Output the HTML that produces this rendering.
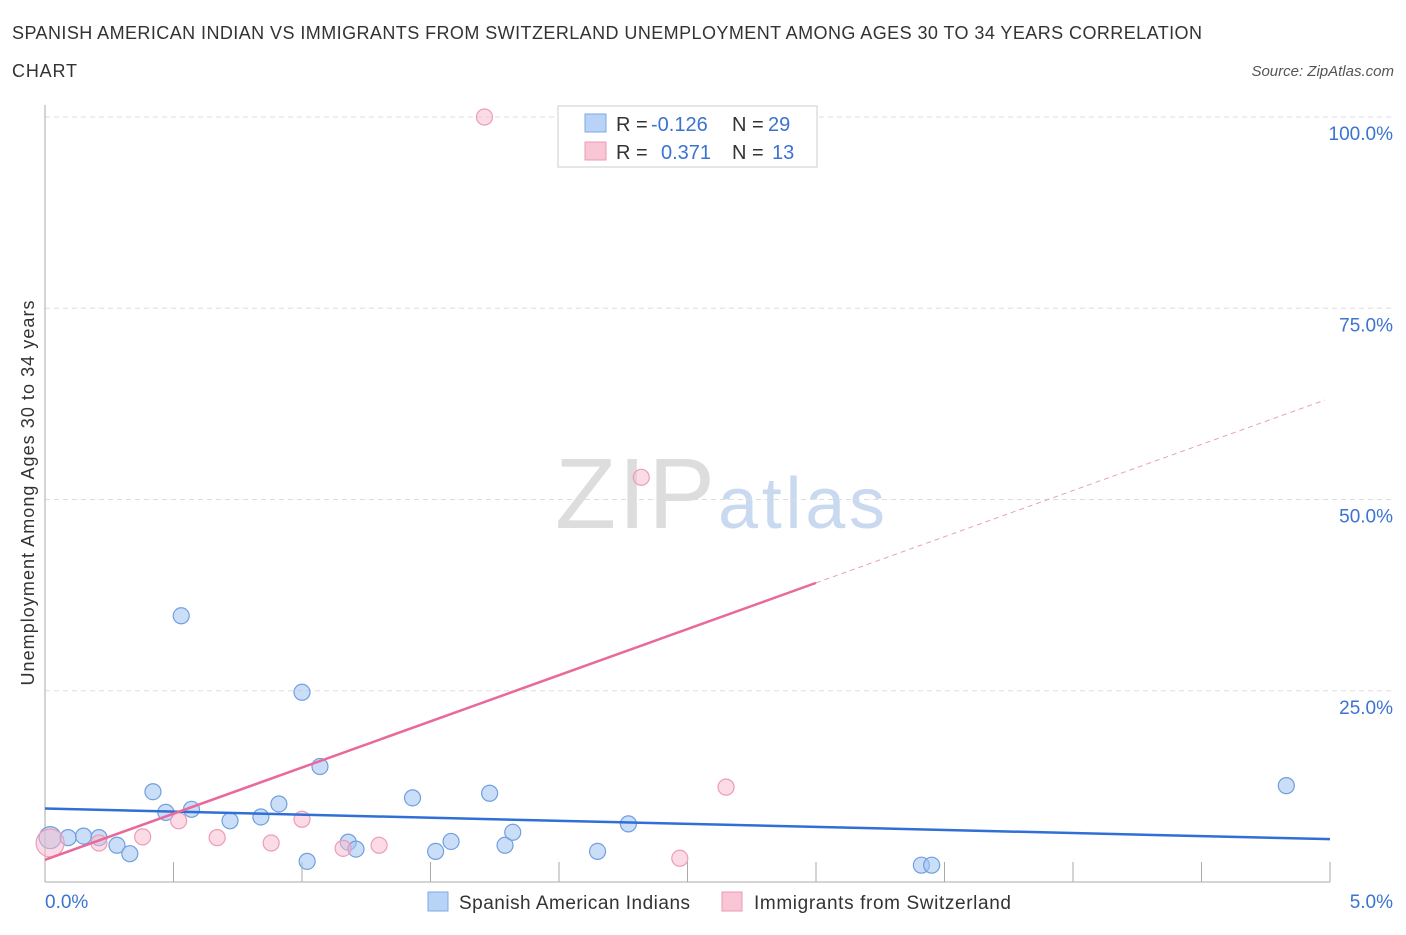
<!DOCTYPE html>
<html><head><meta charset="utf-8"><style>
body{margin:0;background:#fff;font-family:"Liberation Sans",sans-serif;}
svg text{font-family:"Liberation Sans",sans-serif;}
</style></head><body>
<svg id="c" width="1406" height="930" xmlns="http://www.w3.org/2000/svg">
<text x="12" y="39" font-size="18" fill="#333" textLength="1190">SPANISH AMERICAN INDIAN VS IMMIGRANTS FROM SWITZERLAND UNEMPLOYMENT AMONG AGES 30 TO 34 YEARS CORRELATION</text>
<text x="12" y="77" font-size="18" fill="#333" textLength="65">CHART</text>
<text x="1394" y="76" font-size="15" fill="#555" font-style="italic" text-anchor="end">Source: ZipAtlas.com</text>
<text x="715" y="528" font-size="100" fill="#ddd" text-anchor="end" font-family="Liberation Serif" textLength="160">ZIP</text>
<text x="718" y="528" font-size="72" fill="#c9d9ef" textLength="167">atlas</text>
<text x="34" y="493" font-size="18" fill="#333" text-anchor="middle" textLength="385" transform="rotate(-90 34 493)">Unemployment Among Ages 30 to 34 years</text>
<g id="g"></g>
<rect x="558" y="106" width="259" height="61" fill="#fff" stroke="#ccc"/>
<rect x="585" y="114" width="21" height="18" fill="#b8d3f5" stroke="#7fa9e6"/>
<rect x="585" y="142" width="21" height="18" fill="#f9c6d6" stroke="#ec9ab4"/>
<g font-size="20">
<text x="616" y="131" fill="#333">R =</text><text x="651" y="131" fill="#3b73d1">-0.126</text>
<text x="732" y="131" fill="#333">N =</text><text x="768" y="131" fill="#3b73d1">29</text>
<text x="616" y="159" fill="#333">R =</text><text x="661" y="159" fill="#3b73d1">0.371</text>
<text x="732" y="159" fill="#333">N =</text><text x="772" y="159" fill="#3b73d1">13</text>
</g>
<rect x="428" y="892" width="20" height="19" fill="#b8d3f5" stroke="#7fa9e6"/>
<text x="459" y="909" font-size="19" fill="#333" textLength="231">Spanish American Indians</text>
<rect x="722" y="892" width="20" height="19" fill="#f9c6d6" stroke="#ec9ab4"/>
<text x="754" y="909" font-size="19" fill="#333" textLength="257">Immigrants from Switzerland</text>
</svg>
<script>
const yTicks=[25,50,75,100];
const xTickLabels=["0.0%","5.0%"];
const blueX=[0.02,0.09,0.15,0.21,0.28,0.33,0.42,0.47,0.53,0.57,0.72,0.84,0.91,1.00,1.02,1.07,1.18,1.21,1.43,1.52,1.58,1.73,1.79,1.82,2.15,2.27,3.41,3.45,4.83];
const blueY=[5.8,5.8,6.0,5.8,4.8,3.7,11.8,9.1,34.8,9.5,8.0,8.5,10.2,24.8,2.7,15.1,5.2,4.3,11.0,4.0,5.3,11.6,4.8,6.5,4.0,7.6,2.2,2.2,12.6];
const pinkX=[0.02,0.21,0.38,0.52,0.67,0.88,1.00,1.16,1.30,1.71,2.32,2.47,2.65];
const pinkY=[5.1,5.1,5.9,8.0,5.8,5.1,8.2,4.4,4.8,100,52.9,3.1,12.4];
const blueLine=[9.6,5.6];
const pinkLine=[2.9,39.1,63.0];
const X=v=>45+v/5*1285, Y=v=>882-v/100*765;
const g=document.getElementById('g'),NS='http://www.w3.org/2000/svg';
function mk(t,a){const e=document.createElementNS(NS,t);for(const k in a)e.setAttribute(k,a[k]);g.appendChild(e);return e;}
yTicks.forEach(t=>{
 const l=mk('line',{x1:45,x2:1395,y1:Y(t),y2:Y(t),stroke:'#ddd','stroke-dasharray':'5,4'});
 
 
 const tx=mk('text',{x:1393,y:Y(t)+23,'font-size':19,fill:'#3b73d1','text-anchor':'end'});tx.textContent=t.toFixed(1)+'%';
 
 
});
let ax=mk('line',{x1:45,x2:45,y1:105,y2:882,stroke:'#aaa'});


let ax2=mk('line',{x1:45,x2:1330,y1:882,y2:882,stroke:'#aaa'});


for(let i=0;i<=10;i++){const t=mk('line',{x1:X(i/2),x2:X(i/2),y1:862,y2:882,stroke:'#aaa'});
 
 }
const x0=mk('text',{x:45,y:908,'font-size':19,fill:'#3b73d1'});x0.textContent=xTickLabels[0];


const x1=mk('text',{x:1393,y:908,'font-size':19,fill:'#3b73d1','text-anchor':'end'});x1.textContent=xTickLabels[1];


blueX.forEach((x,i)=>{const c=mk('circle',{cx:X(x),cy:Y(blueY[i]),r:i==0?11:8,fill:'rgba(160,195,240,0.55)',stroke:'#6f9fe0','stroke-width':1.2});
 
 });
pinkX.forEach((x,i)=>{const c=mk('circle',{cx:X(x),cy:Y(pinkY[i]),r:i==0?14:8,fill:'rgba(248,185,205,0.5)',stroke:'#ee9bb6','stroke-width':1.2});
 
 });
const bl=mk('line',{x1:X(0),y1:Y(blueLine[0]),x2:X(5),y2:Y(blueLine[1]),stroke:'#2f6fd6','stroke-width':2.5});


const pl=mk('line',{x1:X(0),y1:Y(pinkLine[0]),x2:X(3),y2:Y(pinkLine[1]),stroke:'#e8699a','stroke-width':2.5});


const pd=mk('line',{x1:X(3),y1:Y(pinkLine[1]),x2:X(4.98),y2:Y(pinkLine[2]),stroke:'#e8a0ba','stroke-width':1,'stroke-dasharray':'5,4'});


</script>
</body></html>
